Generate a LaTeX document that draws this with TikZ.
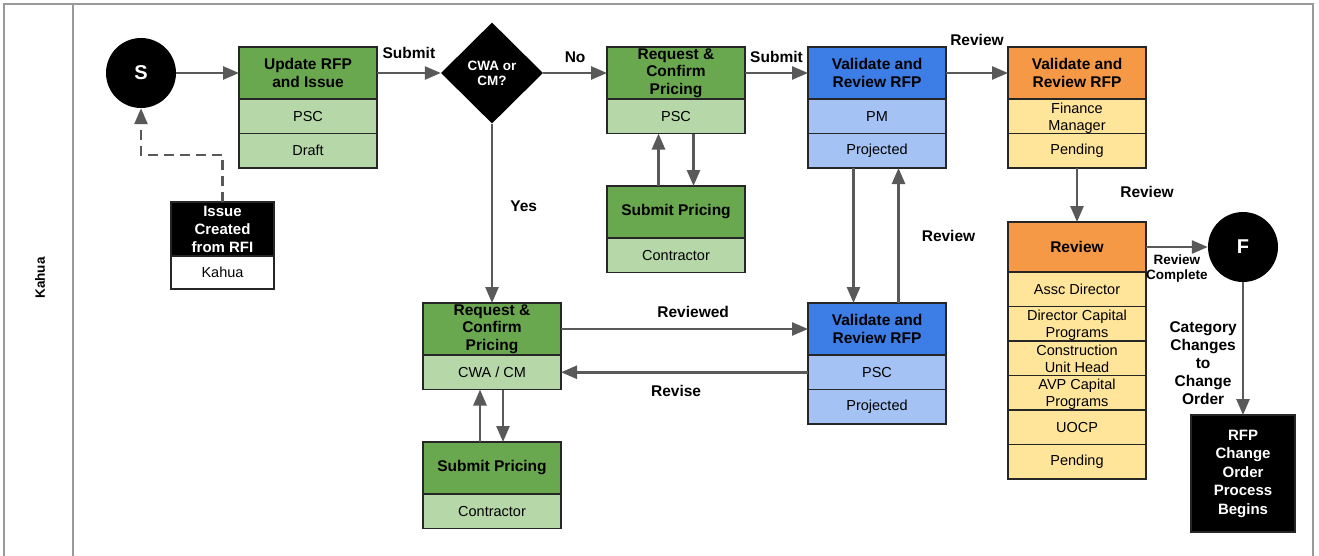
\documentclass[tikz,border=0pt]{standalone}
\usepackage{fontspec}
\setmainfont{Liberation Sans}
\usetikzlibrary{arrows.meta,positioning,shapes.geometric}
\definecolor{dkgreen}{RGB}{106,168,79}
\definecolor{ltgreen}{RGB}{182,215,168}
\definecolor{dkblue}{RGB}{60,125,230}
\definecolor{ltblue}{RGB}{164,194,244}
\definecolor{dkorange}{RGB}{246,153,70}
\definecolor{ltyellow}{RGB}{255,229,153}
\definecolor{arrgray}{RGB}{89,89,89}
\tikzset{
  hdr/.style={draw=black!85,line width=1.2pt,outer sep=0pt,minimum width=138pt,minimum height=52pt,inner sep=0pt,align=center,font=\fontsize{15.5}{17.5}\selectfont\bfseries},
  row/.style={draw=black!85,line width=1.2pt,outer sep=0pt,minimum width=138pt,minimum height=34.5pt,inner sep=0pt,align=center,font=\fontsize{14.5}{17}\selectfont},
  row2/.style={row,text height=28pt,text depth=0pt},
  term/.style={circle,fill=black,minimum size=70pt,inner sep=0pt,text=white,font=\fontsize{20}{24}\selectfont\bfseries},
  arr/.style={draw=arrgray,line width=2.6pt,-{Triangle[length=16pt,width=13pt]}},
  lbl/.style={font=\fontsize{15.5}{18}\selectfont\bfseries,align=center,inner sep=0pt},
  lane/.style={draw=gray!80,line width=1.5pt}
}

\begin{document}
\begin{tikzpicture}[x=1pt,y=-1pt]
                   \useasboundingbox (0,0) rectangle (1319,555);
                   \draw[lane] (4,565) -- (4,4) -- (1313,4) -- (1313,565);
                   \draw[lane] (73,4) -- (73,565);
                   \node[rotate=90,font=\fontsize{13.5}{15}\selectfont\bfseries] (lane) at (40,278) {Kahua};
                   % start and issue
                   \node[term] (s) at (141,73) {S};
                   \node[hdr,fill=black,text=white,minimum width=103pt,minimum height=54pt,font=\fontsize{15}{18}\selectfont\bfseries,anchor=north west] (iss_h) at (171,202) {Issue\\Created\\from RFI};
                   \node[row,fill=white,minimum width=103pt,minimum height=33pt] (iss_1) [below=0pt of iss_h] {Kahua};
                   \node[hdr,fill=dkgreen,anchor=north west] (u_h) at (239,47) {Update RFP\\and Issue};
                   \node[row,fill=ltgreen] (u_1) [below=0pt of u_h] {PSC};
                   \node[row,fill=ltgreen] (u_2) [below=0pt of u_1] {Draft};
                   \node[diamond,fill=black,text=white,minimum width=102pt,minimum height=101pt,inner sep=0pt,align=center,font=\fontsize{13.5}{15}\selectfont\bfseries] (dia) at (492,73) {CWA or\\CM?};
                   % top row
                   \node[hdr,fill=dkgreen,anchor=north west] (r_h) at (607,47) {Request \&\\Confirm\\Pricing};
                   \node[row,fill=ltgreen] (r_1) [below=0pt of r_h] {PSC};
                   \node[hdr,fill=dkgreen,anchor=north west] (sp_h) at (607,186) {Submit Pricing};
                   \node[row,fill=ltgreen] (sp_1) [below=0pt of sp_h] {Contractor};
                   \node[hdr,fill=dkblue,anchor=north west] (v_h) at (808,47) {Validate and\\Review RFP};
                   \node[row,fill=ltblue] (v_1) [below=0pt of v_h] {PM};
                   \node[row,fill=ltblue] (v_2) [below=0pt of v_1] {Projected};
                   \node[hdr,fill=dkorange,anchor=north west] (o_h) at (1008,47) {Validate and\\Review RFP};
                   \node[row2,fill=ltyellow] (o_1) [below=0pt of o_h] {Finance\\Manager};
                   \node[row,fill=ltyellow] (o_2) [below=0pt of o_1] {Pending};
                   % review chain
                   \node[hdr,fill=dkorange,minimum height=50pt,anchor=north west] (rv_h) at (1008,222) {Review};
                   \node[row,fill=ltyellow] (rv_1) [below=0pt of rv_h] {Assc Director};
                   \node[row2,fill=ltyellow] (rv_2) [below=0pt of rv_1] {Director Capital\\Programs};
                   \node[row2,fill=ltyellow] (rv_3) [below=0pt of rv_2] {Construction\\Unit Head};
                   \node[row2,fill=ltyellow] (rv_4) [below=0pt of rv_3] {AVP Capital\\Programs};
                   \node[row,fill=ltyellow] (rv_5) [below=0pt of rv_4] {UOCP};
                   \node[row,fill=ltyellow] (rv_6) [below=0pt of rv_5] {Pending};
                   \node[term] (f) at (1243,247) {F};
                   \node[hdr,fill=black,text=white,minimum width=104pt,minimum height=117pt,font=\fontsize{15}{18.5}\selectfont\bfseries,anchor=north west] (cob) at (1191,415) {RFP\\Change\\Order\\Process\\Begins};
                   % bottom row
                   \node[hdr,fill=dkgreen,anchor=north west] (rb_h) at (423,303) {Request \&\\Confirm\\Pricing};
                   \node[row,fill=ltgreen] (rb_1) [below=0pt of rb_h] {CWA / CM};
                   \node[hdr,fill=dkgreen,anchor=north west] (sb_h) at (423,442) {Submit Pricing};
                   \node[row,fill=ltgreen] (sb_1) [below=0pt of sb_h] {Contractor};
                   \node[hdr,fill=dkblue,anchor=north west] (vb_h) at (808,303) {Validate and\\Review RFP};
                   \node[row,fill=ltblue] (vb_1) [below=0pt of vb_h] {PSC};
                   \node[row,fill=ltblue] (vb_2) [below=0pt of vb_1] {Projected};
                    % connectors
                    \draw[arr,dash pattern=on 10pt off 6pt] (iss_h.north) -- ++(0,-47) -| (s.south);
                    \draw[arr] (s) -- (u_h);
                    \draw[arr] (u_h.east) -- node[lbl,above=13pt] {Submit} (dia.west);
                    \draw[arr] (dia.east) -- node[lbl,above=9pt] {No} (r_h.west);
                    \draw[arr] (r_h.east) -- node[lbl,above=9pt] {Submit} (v_h.west);
                    \draw[arr] (v_h.east) -- node[lbl,above=26pt] {Review} (o_h.west);
                    \draw[arr] ([xshift=-17.5pt]sp_h.north) -- ([xshift=-17.5pt]r_1.south);
                    \draw[arr] ([xshift=17.5pt]r_1.south) -- ([xshift=17.5pt]sp_h.north);
                    \draw[arr] ([xshift=-23.5pt]v_2.south) -- ([xshift=-23.5pt]vb_h.north);
                    \draw[arr] ([xshift=21.5pt]vb_h.north) -- node[lbl,right=22pt] {Review} ([xshift=21.5pt]v_2.south);
                    \draw[arr] (dia.south) -- node[lbl,pos=0.46,right=17pt] {Yes} (rb_h.north);
                    \draw[arr] (rb_h.east) -- node[lbl,pos=0.535,above=10pt] {Reviewed} (vb_h.west);
                    \draw[arr] (vb_1.west) -- node[lbl,pos=0.534,below=12pt] {Revise} (rb_1.east);
                    \draw[arr] ([xshift=-12pt]sb_h.north) -- ([xshift=-12pt]rb_1.south);
                    \draw[arr] ([xshift=11pt]rb_1.south) -- ([xshift=11pt]sb_h.north);
                    \draw[arr] (o_2.south) -- node[lbl,pos=0.45,right=42pt] {Review} (rv_h.north);
                    \draw[arr] (rv_h.east) -- node[lbl,below=6pt,font=\fontsize{13.5}{15.5}\selectfont\bfseries] {Review\\Complete} (f.west);
                    \draw[arr] (f.south) -- node[lbl,pos=0.61,left=5pt] {Category\\Changes\\to\\Change\\Order} (cob.north);
                \end{tikzpicture}
\end{document}
